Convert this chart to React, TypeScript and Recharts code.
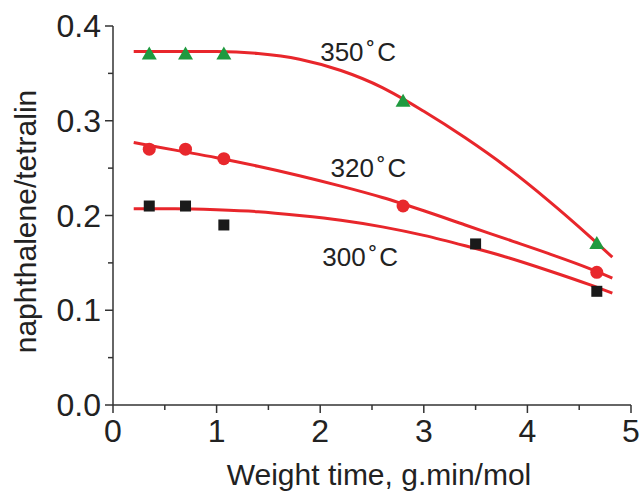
import { ComposedChart, Line, Scatter, XAxis, YAxis, ReferenceDot, Label } from "recharts"

// axis ticks (minor ones carry no label)
const xTicks = [0, 0.5, 1, 1.5, 2, 2.5, 3, 3.5, 4, 4.5, 5]
const yTicks = [0, 0.05, 0.1, 0.15, 0.2, 0.25, 0.3, 0.35, 0.4]

// measured points
const time300 = [0.35, 0.7, 1.07, 3.5, 4.67]
const ratio300 = [0.21, 0.21, 0.19, 0.17, 0.12]
const time320 = [0.35, 0.7, 1.07, 2.8, 4.67]
const ratio320 = [0.27, 0.27, 0.26, 0.21, 0.14]
const time350 = [0.35, 0.7, 1.07, 2.8, 4.67]
const ratio350 = [0.37, 0.37, 0.37, 0.32, 0.17]

// fitted curves
const fitTime = [0.2, 0.6, 1.0, 1.4, 1.8, 2.2, 2.6, 3.0, 3.4, 3.8, 4.2, 4.6, 4.82]
const fit300 = [0.207, 0.207, 0.206, 0.204, 0.2, 0.195, 0.188, 0.179, 0.168, 0.156, 0.142, 0.127, 0.118]
const fit320 = [0.277, 0.269, 0.261, 0.252, 0.242, 0.231, 0.219, 0.205, 0.19, 0.175, 0.16, 0.144, 0.134]
const fit350 = [0.373, 0.373, 0.373, 0.371, 0.365, 0.353, 0.335, 0.31, 0.282, 0.251, 0.216, 0.178, 0.156]

const tempLabels = ["300", "320", "350"]
const labelTime = [2.02, 2.1, 2.0]
const labelRatio = [0.147, 0.241, 0.363]

const fitData = fitTime.map((x, i) => ({ x, t300: fit300[i], t320: fit320[i], t350: fit350[i] }))
const toPoints = (xs: number[], ys: number[]) => xs.map((x, i) => ({ x, y: ys[i] }))

const FONT = '"Liberation Sans", Arial, Helvetica, sans-serif'
const AXIS = "#333"
const RED = "#e8262b"

function XTick({ x, y, payload }: any) {
  const major = Number.isInteger(payload.value)
  return (
    <g>
      <line x1={x} x2={x} y1={y} y2={y + (major ? 8 : 5)} stroke={AXIS} strokeWidth={1.5} />
      {major && (
        <text x={x} y={y + 37} textAnchor="middle" fontSize={32} fill="#222" fontFamily={FONT}>
          {payload.value}
        </text>
      )}
    </g>
  )
}

function YTick({ x, y, payload }: any) {
  const major = Math.round(payload.value * 100) % 10 === 0
  return (
    <g>
      <line x1={x} x2={x - (major ? 8 : 5)} y1={y} y2={y} stroke={AXIS} strokeWidth={1.5} />
      {major && (
        <text x={x - 12} y={y + 11} textAnchor="end" fontSize={32} fill="#222" fontFamily={FONT}>
          {payload.value.toFixed(1)}
        </text>
      )}
    </g>
  )
}

const Triangle = ({ cx, cy }: any) => (
  <polygon points={`${cx},${cy - 8} ${cx - 7.5},${cy + 5} ${cx + 7.5},${cy + 5}`} fill="#1f9a3f" />
)
const Dot = ({ cx, cy }: any) => <circle cx={cx} cy={cy} r={6.5} fill="#e8282d" />
const Square = ({ cx, cy }: any) => <rect x={cx - 5.5} y={cy - 5.5} width={11} height={11} fill="#1a1a1a" />

function TempLabel({ viewBox, temp }: any) {
  return (
    <text x={viewBox.x} y={viewBox.y} fontSize={26} fill="#222" fontFamily={FONT}>
      {temp}
      <tspan dx={3}>˚</tspan>
      <tspan dx={2}>C</tspan>
    </text>
  )
}

export default function App() {
  return (
    <div style={{ position: "absolute", left: 0, top: 0, background: "#fff" }}>
      <ComposedChart width={640} height={493} data={fitData} margin={{ top: 26, right: 9, bottom: 0, left: 0 }}>
        <XAxis
          dataKey="x"
          type="number"
          domain={[0, 5]}
          ticks={xTicks}
          interval={0}
          height={88}
          tickSize={0}
          tickMargin={0}
          tickLine={false}
          tick={<XTick />}
          axisLine={{ stroke: AXIS, strokeWidth: 1.5 }}
        >
          <Label
            content={({ viewBox }: any) => (
              <text x={viewBox.x + viewBox.width / 2 + 7} y={viewBox.y + 80} textAnchor="middle" fontSize={30} fill="#222" fontFamily={FONT}>
                Weight time, g.min/mol
              </text>
            )}
          />
        </XAxis>
        <YAxis
          type="number"
          domain={[0, 0.4]}
          ticks={yTicks}
          interval={0}
          width={113}
          tickSize={0}
          tickMargin={0}
          tickLine={false}
          tick={<YTick />}
          axisLine={{ stroke: AXIS, strokeWidth: 1.5 }}
        >
          <Label
            content={({ viewBox }: any) => {
              const cy = viewBox.y + viewBox.height / 2 + 6
              return (
                <text x={36} y={cy} transform={`rotate(-90, 36, ${cy})`} textAnchor="middle" fontSize={30} fill="#222" fontFamily={FONT}>
                  naphthalene/tetralin
                </text>
              )
            }}
          />
        </YAxis>
        <Line dataKey="t300" type="monotone" stroke={RED} strokeWidth={3} dot={false} isAnimationActive={false} />
        <Line dataKey="t320" type="monotone" stroke={RED} strokeWidth={3} dot={false} isAnimationActive={false} />
        <Line dataKey="t350" type="monotone" stroke={RED} strokeWidth={3} dot={false} isAnimationActive={false} />
        <Scatter data={toPoints(time300, ratio300)} dataKey="y" shape={<Square />} isAnimationActive={false} />
        <Scatter data={toPoints(time320, ratio320)} dataKey="y" shape={<Dot />} isAnimationActive={false} />
        <Scatter data={toPoints(time350, ratio350)} dataKey="y" shape={<Triangle />} isAnimationActive={false} />
        {tempLabels.map((t, i) => (
          <ReferenceDot
            key={t}
            x={labelTime[i]}
            y={labelRatio[i]}
            r={0}
            fill="none"
            stroke="none"
            label={<TempLabel temp={t} />}
          />
        ))}
      </ComposedChart>
    </div>
  )
}
